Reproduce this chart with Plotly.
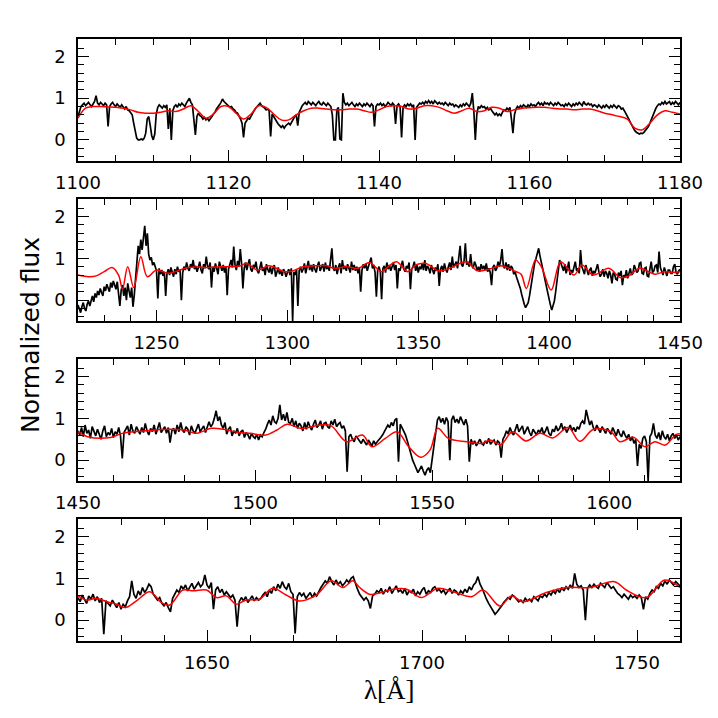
import plotly.graph_objects as go

# ---------------- Panel 1: 1100-1180 A (step 0.2 A) ----------------
p1_start, p1_step = 1100.0, 0.2
p1_flux = [
    0.56, 0.70, 0.80, 0.84, 0.88, 0.82, 0.86, 0.90, 0.84, 0.80,
    0.86, 0.92, 1.06, 0.88, 0.84, 0.90, 0.86, 0.82, 0.88, 0.84,
    0.32, 0.80, 0.86, 0.90, 0.84, 0.80, 0.86, 0.82, 0.78, 0.84,
    0.78, 0.74, 0.80, 0.72, 0.70, 0.66, 0.60, 0.40, 0.16, 0.04,
    0.00, 0.00, 0.02, 0.00, 0.04, 0.16, 0.50, 0.56, 0.34, 0.10,
    0.00, 0.14, 0.62, 0.78, 0.84, 0.80, 0.76, 0.82, 0.78, 0.84,
    0.26, 0.76, 0.00, 0.70, 0.80, 0.84, 0.78, 0.86, 0.82, 0.88,
    0.84, 0.80, 0.88, 0.94, 1.00, 0.90, 0.84, 0.48, 0.12, 0.56,
    0.64, 0.58, 0.56, 0.50, 0.54, 0.48, 0.52, 0.46, 0.50, 0.56,
    0.62, 0.66, 0.74, 0.78, 0.84, 0.90, 0.98, 0.92, 0.88, 0.84,
    0.82, 0.78, 0.80, 0.74, 0.72, 0.66, 0.64, 0.58, 0.50, 0.40,
    0.06, 0.40, 0.46, 0.52, 0.50, 0.58, 0.64, 0.70, 0.76, 0.80,
    0.86, 0.88, 0.82, 0.80, 0.76, 0.72, 0.74, 0.70, 0.08, 0.62,
    0.56, 0.48, 0.44, 0.38, 0.34, 0.30, 0.34, 0.28, 0.34, 0.38,
    0.40, 0.36, 0.44, 0.48, 0.56, 0.60, 0.34, 0.66, 0.76, 0.82,
    0.86, 0.90, 0.84, 0.92, 0.88, 0.84, 0.90, 0.86, 0.82, 0.88,
    0.92, 0.86, 0.84, 0.90, 0.86, 0.82, 0.88, 0.84, 0.80, 0.60,
    0.00, 0.00, 0.72, 0.78, 0.02, 0.00, 1.12, 0.90, 0.84, 0.88,
    0.82, 0.86, 0.90, 0.84, 0.80, 0.86, 0.82, 0.88, 0.84, 0.80,
    0.86, 0.82, 0.88, 0.84, 0.80, 0.86, 0.82, 0.32, 0.80, 0.86,
    0.84, 0.88, 0.82, 0.86, 0.80, 0.84, 0.90, 0.86, 0.82, 0.88,
    0.84, 0.38, 0.82, 0.86, 0.80, 0.06, 0.78, 0.84, 0.80, 0.86,
    0.82, 0.86, 0.80, 0.84, 0.00, 0.78, 0.84, 0.88, 0.86, 0.90,
    0.86, 0.92, 0.88, 0.94, 0.88, 0.92, 0.86, 0.94, 0.90, 0.86,
    0.90, 0.86, 0.88, 0.84, 0.90, 0.86, 0.82, 0.88, 0.84, 0.86,
    0.80, 0.84, 0.82, 0.78, 0.84, 0.80, 0.86, 0.82, 0.88, 0.84,
    0.80, 0.88, 1.12, 0.70, 0.00, 0.62, 0.80, 0.76, 0.82, 0.78,
    0.80, 0.74, 0.78, 0.72, 0.76, 0.70, 0.66, 0.60, 0.64, 0.58,
    0.62, 0.58, 0.66, 0.72, 0.70, 0.76, 0.72, 0.78, 0.50, 0.16,
    0.60, 0.74, 0.80, 0.76, 0.82, 0.78, 0.84, 0.80, 0.78, 0.84,
    0.80, 0.86, 0.82, 0.84, 0.80, 0.86, 0.90, 0.84, 0.88, 0.82,
    0.90, 0.86, 0.88, 0.84, 0.90, 0.86, 0.82, 0.88, 0.84, 0.90,
    0.86, 0.82, 0.84, 0.80, 0.86, 0.82, 0.88, 0.84, 0.80, 0.86,
    0.82, 0.88, 0.84, 0.90, 0.86, 0.82, 0.92, 0.86, 0.84, 0.88,
    0.84, 0.86, 0.80, 0.84, 0.82, 0.78, 0.84, 0.80, 0.76, 0.82,
    0.78, 0.84, 0.80, 0.76, 0.82, 0.78, 0.84, 0.80, 0.76, 0.82,
    0.80, 0.74, 0.76, 0.70, 0.64, 0.58, 0.50, 0.42, 0.34, 0.28,
    0.22, 0.18, 0.16, 0.14, 0.16, 0.15, 0.18, 0.22, 0.26, 0.32,
    0.40, 0.50, 0.60, 0.70, 0.76, 0.82, 0.86, 0.84, 0.90, 0.86,
    0.92, 0.86, 0.88, 0.92, 0.84, 0.90, 0.86, 0.92, 0.88, 0.84,
    0.90,
]
p1_model_wave = list(range(1100, 1181))
p1_model_flux = [
    0.52, 0.76, 0.80, 0.80, 0.79, 0.78, 0.76, 0.72, 0.66, 0.64,
    0.64, 0.66, 0.70, 0.68, 0.74, 0.82, 0.68, 0.52, 0.62, 0.80,
    0.80, 0.64, 0.50, 0.62, 0.82, 0.78, 0.62, 0.48, 0.48, 0.60,
    0.70, 0.76, 0.76, 0.74, 0.72, 0.72, 0.74, 0.74, 0.70, 0.66,
    0.72, 0.80, 0.82, 0.80, 0.74, 0.76, 0.82, 0.82, 0.78, 0.70,
    0.64, 0.70, 0.76, 0.68, 0.70, 0.78, 0.76, 0.68, 0.72, 0.76,
    0.77, 0.78, 0.78, 0.76, 0.74, 0.74, 0.72, 0.74, 0.74, 0.70,
    0.64, 0.60, 0.56, 0.50, 0.28, 0.24, 0.40, 0.60, 0.70, 0.66,
    0.62,
]

# ---------------- Panel 2: 1220-1450 A (step 0.5 A) ----------------
p2_start, p2_step = 1220.0, 0.5
p2_flux = [
    -0.12, -0.24, -0.30, -0.16, -0.06, -0.20, -0.26, -0.10, -0.02, -0.14,
    0.00, 0.10, -0.04, 0.16, 0.06, 0.22, 0.12, 0.28, 0.18, 0.10,
    0.32, 0.22, 0.38, 0.26, 0.20, 0.42, 0.30, 0.46, 0.34, 0.26,
    0.44, 0.18, -0.14, 0.24, 0.36, 0.10, 0.30, 0.00, 0.40, 0.22,
    0.06, 0.30, -0.16, 0.12, 0.46, 0.80, 1.30, 1.10, 1.45, 1.20,
    1.50, 1.78, 1.30, 1.60, 1.10, 0.96, 1.02, 0.84, 0.90, 0.76,
    0.70, 0.04, 0.76, 0.62, 0.72, 0.58, 0.68, 0.10, 0.64, 0.74,
    0.60, 0.78, 0.66, 0.56, 0.74, 0.62, 0.80, 0.68, 0.72, 0.00,
    0.66, 0.80, 0.72, 0.90, 0.76, 0.70, 0.86, 0.78, 0.96, 0.74,
    0.82, 0.68, 0.78, 0.92, 0.72, 0.64, 0.86, 0.76, 1.04, 0.82,
    0.74, 0.90, 0.30, 0.80, 0.68, 0.88, 0.76, 0.62, 0.92, 0.78,
    0.70, 0.84, 0.66, 0.80, 0.12, 0.74, 0.88, 0.96, 0.78, 1.28,
    0.84, 0.72, 0.94, 0.80, 1.22, 0.88, 0.28, 0.76, 0.90, 0.72,
    0.86, 0.98, 0.74, 0.68, 0.84, 0.78, 0.92, 0.70, 0.64, 0.82,
    0.92, 0.70, 0.78, 0.60, 0.86, 0.74, 0.66, 0.80, 0.62, 0.76,
    0.84, 0.56, 0.70, 0.78, 0.62, 0.72, 0.58, 0.74, 0.68, 0.56,
    0.66, 0.74, 0.60, 0.76, -0.50, 0.68, 0.60, 0.74, -0.14, 0.70,
    0.80, 0.66, 0.74, 0.88, 0.64, 0.78, 0.94, 0.72, 0.84, 0.68,
    0.86, 0.74, 0.66, 0.82, 0.92, 0.70, 0.78, 0.86, 0.68, 0.90,
    0.74, 0.82, 0.70, 0.96, 1.24, 0.76, 0.70, 0.84, 0.62, 0.78,
    0.88, 0.64, 0.96, 0.74, 0.82, 0.70, 0.86, 0.76, 0.66, 0.92,
    0.72, 0.84, 0.70, 0.80, 0.64, 0.78, 0.20, 0.72, 0.86, 0.76,
    0.88, 0.70, 0.80, 0.92, 1.02, 0.76, 0.84, 0.66, 0.08, 0.72,
    0.80, 0.68, 0.02, 0.76, 0.82, 0.66, 0.90, 0.74, 0.84, 0.70,
    0.78, 0.90, 0.72, 0.84, 0.28, 0.76, 0.70, 0.86, 0.94, 0.74,
    0.68, 0.82, 0.76, 0.90, 0.26, 0.74, 0.80, 0.92, 0.70, 0.84,
    0.66, 0.80, 0.74, 0.88, 0.72, 0.96, 0.70, 0.82, 0.76, 0.64,
    0.84, 0.72, 0.62, 0.78, 0.70, 0.86, 0.34, 0.74, 0.82, 0.68,
    0.88, 0.74, 0.66, 0.80, 0.90, 0.72, 1.04, 0.78, 0.84, 0.92,
    0.76, 0.98, 1.30, 0.86, 0.80, 0.94, 1.36, 0.84, 0.92, 0.80,
    1.10, 0.82, 0.76, 0.92, 0.84, 0.70, 0.80, 0.68, 0.86, 0.74,
    0.82, 0.72, 0.88, 0.68, 0.76, 0.66, 0.36, 0.78, 0.84, 0.70,
    0.76, 0.92, 0.80, 0.96, 1.22, 0.82, 0.76, 0.90, 0.72, 0.86,
    0.70, 0.82, 0.76, 0.62, 0.68, 0.56, 0.48, 0.40, 0.28, 0.14,
    0.00, -0.10, -0.18, -0.12, -0.06, 0.10, 0.30, 0.52, 0.74, 0.90,
    1.00, 1.14, 1.24, 1.06, 0.88, 0.74, 0.62, 0.46, 0.30, 0.14,
    0.00, -0.12, -0.24, -0.14, -0.02, 0.20, 0.50, 0.78, 0.96, 0.88,
    0.80, 0.70, 0.86, 0.64, 0.76, 0.92, 0.60, 0.72, 0.66, 0.80,
    0.92, 0.70, 0.76, 0.64, 1.20, 0.80, 0.72, 0.62, 0.84, 0.74,
    0.60, 0.72, 0.78, 0.58, 0.70, 0.64, 0.76, 0.86, 0.68, 0.56,
    0.62, 0.74, 0.56, 0.70, 0.64, 0.52, 0.70, 0.60, 0.40, 0.66,
    0.62, 0.50, 0.48, 0.66, 0.58, 0.70, 0.36, 0.60, 0.54, 0.72,
    0.52, 0.66, 0.76, 0.60, 0.64, 0.84, 0.72, 0.66, 0.70, 0.88,
    0.90, 0.64, 0.62, 0.76, 0.78, 0.58, 0.56, 0.70, 0.92, 0.66,
    0.70, 0.82, 0.84, 0.66, 1.16, 0.78, 0.66, 0.60, 0.78, 0.70,
    0.58, 0.72, 0.72, 0.64, 0.64, 0.80, 0.86, 0.66, 0.62, 0.70,
    0.74,
]
p2_model_wave = [
    1220, 1224, 1227, 1230, 1233, 1235.5, 1237, 1239, 1241.3, 1244,
    1246.5, 1250, 1254.5, 1258, 1262, 1266, 1270, 1274, 1278, 1282,
    1284.5, 1288.5, 1293, 1299, 1302, 1306, 1310, 1315, 1318, 1322.5,
    1327, 1331.4, 1335.8, 1338.5, 1341.7, 1346, 1349, 1352.7, 1357.9, 1362,
    1368.2, 1372.7, 1377, 1381.5, 1387.4, 1389.3, 1391.3, 1394.8, 1397, 1400.8,
    1404.4, 1409.5, 1412.5, 1416.9, 1422.8, 1427.2, 1430.5, 1434.6, 1440.5, 1444,
    1447, 1450,
]
p2_model_flux = [
    0.60, 0.56, 0.58, 0.68, 0.78, 0.60, 0.26, 0.80, 0.30, 1.04,
    0.56, 0.72, 0.64, 0.70, 0.78, 0.79, 0.78, 0.80, 0.80, 0.82,
    0.88, 0.72, 0.82, 0.68, 0.70, 0.80, 0.82, 0.82, 0.76, 0.80,
    0.76, 0.90, 0.68, 0.80, 0.92, 0.68, 0.84, 0.88, 0.70, 0.76,
    0.92, 0.70, 0.74, 0.82, 0.68, 0.62, 0.28, 0.96, 0.80, 0.24,
    0.92, 0.60, 0.84, 0.60, 0.76, 0.54, 0.58, 0.76, 0.62, 0.68,
    0.66, 0.68,
]

# ---------------- Panel 3: 1450-1620 A (step 0.5 A) ----------------
p3_start, p3_step = 1450.0, 0.5
p3_flux = [
    0.70, 0.60, 0.78, 0.56, 0.84, 0.64, 0.72, 0.52, 0.80, 0.66,
    0.58, 0.74, 0.62, 0.50, 0.70, 0.82, 0.56, 0.66, 0.60, 0.76,
    0.54, 0.68, 0.62, 0.78, 0.58, 0.04, 0.66, 0.74, 0.82, 0.60,
    0.86, 0.70, 0.64, 0.80, 0.72, 0.62, 0.78, 0.66, 0.88, 0.70,
    0.60, 0.76, 0.68, 0.84, 0.62, 0.74, 0.90, 0.66, 0.72, 0.80,
    0.64, 0.78, 0.42, 0.70, 0.76, 0.62, 0.84, 0.68, 0.90, 0.72,
    0.66, 0.80, 0.74, 0.60, 0.82, 0.70, 0.64, 0.78, 0.86, 0.68,
    0.74, 0.82, 0.66, 0.78, 0.92, 0.80, 0.86, 1.00, 1.18, 0.94,
    1.04, 0.84, 0.76, 0.90, 0.62, 0.74, 0.80, 0.58, 0.70, 0.64,
    0.76, 0.58, 0.68, 0.72, 0.54, 0.66, 0.60, 0.50, 0.64, 0.56,
    0.52, 0.62, 0.48, 0.60, 0.56, 0.66, 0.74, 0.86, 0.96, 0.84,
    1.06, 0.92, 0.88, 1.00, 1.32, 0.96, 1.10, 0.94, 1.14, 0.90,
    0.88, 1.00, 0.80, 0.94, 0.76, 0.88, 0.82, 0.70, 0.90, 0.74,
    0.92, 0.80, 0.72, 0.86, 0.96, 0.78, 0.84, 0.94, 0.74, 0.88,
    0.90, 0.80, 0.76, 0.94, 0.84, 0.98, 0.80, 0.86, 0.90, 0.76,
    0.82, 0.70, -0.28, 0.56, 0.62, 0.50, 0.44, 0.58, 0.52, 0.46,
    0.40, 0.50, 0.44, 0.36, 0.48, 0.40, 0.34, 0.46, 0.38, 0.44,
    0.48, 0.54, 0.60, 0.70, 0.76, 0.84, 0.78, 0.90, 0.82, 0.96,
    1.00, -0.04, 0.86, 0.78, 0.70, 0.60, 0.46, 0.30, 0.14, 0.00,
    -0.10, -0.20, -0.30, -0.22, -0.14, -0.26, -0.36, -0.24, -0.18, -0.30,
    0.04, 0.40, 0.74, 0.96, 1.04, 0.90, 1.00, 0.86, 1.02, 0.92,
    0.00, 0.96, 1.06, 0.90, 0.98, 0.88, 1.04, 0.92, 0.84, 0.98,
    0.82, -0.04, 0.50, 0.38, 0.46, 0.34, 0.44, 0.50, 0.40, 0.36,
    0.46, 0.40, 0.52, 0.38, 0.44, 0.48, 0.36, 0.46, 0.42, 0.06,
    0.50, 0.58, 0.70, 0.62, 0.78, 0.66, 0.60, 0.76, 0.86, 0.68,
    0.74, 0.82, 0.62, 0.70, 0.80, 0.66, 0.58, 0.74, 0.68, 0.60,
    0.72, 0.66, 0.78, 0.62, 0.70, 0.80, 0.64, 0.58, 0.74, 0.68,
    0.82, 0.70, 0.76, 0.88, 0.72, 0.80, 0.66, 0.74, 0.84, 0.70,
    0.78, 0.68, 0.80, 0.74, 0.88, 0.94, 0.86, 1.20, 1.04, 0.84,
    0.94, 0.78, 0.70, 0.84, 0.74, 0.66, 0.80, 0.72, 0.64, 0.76,
    0.70, 0.62, 0.78, 0.66, 0.58, 0.74, 0.62, 0.56, 0.70, 0.60,
    0.52, 0.62, 0.46, 0.56, 0.40, 0.50, -0.14, 0.38, 0.28, 0.52,
    0.58, 0.44, -0.50, 0.56, 0.64, 0.88, 0.60, 0.52, 0.66, 0.48,
    0.70, 0.56, 0.50, 0.62, 0.46, 0.58, 0.64, 0.52, 0.60, 0.48,
    0.56,
]
p3_model_wave = [
    1450, 1452.7, 1459.2, 1462.5, 1469.1, 1475.6, 1480, 1483.3, 1487.6, 1491,
    1495.3, 1498.6, 1503, 1506.2, 1509, 1512.8, 1515, 1518.3, 1521.5, 1525.9,
    1530.3, 1533, 1536.8, 1540.1, 1543.4, 1546.7, 1549.4, 1551.6, 1554.6, 1559.8,
    1564.1, 1566.3, 1569.4, 1572.7, 1576.5, 1580.5, 1584.1, 1588.4, 1591.7, 1595.6,
    1600.5, 1603, 1606.8, 1610.1, 1612.9, 1615.8, 1618.8, 1620,
]
p3_model_flux = [
    0.68, 0.56, 0.54, 0.64, 0.70, 0.74, 0.72, 0.64, 0.76, 0.74,
    0.66, 0.64, 0.60, 0.72, 0.86, 0.76, 0.78, 0.84, 0.82, 0.44,
    0.60, 0.32, 0.52, 0.68, 0.32, 0.07, 0.24, 0.76, 0.52, 0.44,
    0.40, 0.48, 0.37, 0.68, 0.46, 0.64, 0.53, 0.78, 0.45, 0.74,
    0.68, 0.44, 0.55, 0.32, 0.44, 0.36, 0.61, 0.63,
]

# ---------------- Panel 4: 1620-1760 A (step 0.5 A) ----------------
p4_start, p4_step = 1620.0, 0.5
p4_flux = [
    0.54, 0.44, 0.60, 0.48, 0.40, 0.58, 0.50, 0.62, 0.46, 0.56,
    0.42, 0.52, -0.34, 0.46, 0.40, 0.34, 0.48, 0.38, 0.30, 0.42,
    0.26, 0.38, 0.32, 0.46, 0.56, 0.94, 0.62, 0.52, 0.70, 0.60,
    0.78, 0.66, 0.74, 0.86, 0.80, 0.62, 0.56, 0.48, 0.54, 0.40,
    0.34, 0.42, 0.30, 0.20, 0.52, 0.62, 0.72, 0.66, 0.82, 0.74,
    0.84, 0.70, 0.78, 0.88, 0.74, 0.82, 0.90, 0.80, 0.86, 1.08,
    0.84, 0.76, 0.90, 0.26, 0.72, 0.80, 0.66, 0.74, 0.60, 0.68,
    0.62, 0.54, 0.60, 0.48, -0.16, 0.44, 0.54, 0.46, 0.56, 0.42,
    0.50, 0.58, 0.46, 0.54, 0.48, 0.52, 0.60, 0.66, 0.56, 0.72,
    0.64, 0.80, 0.70, 0.86, 0.76, 0.92, 0.80, 0.74, 0.88, 0.68,
    0.62, -0.32, 0.56, 0.66, 0.58, 0.64, 0.52, 0.60, 0.66, 0.54,
    0.64, 0.58, 0.70, 0.78, 0.86, 0.94, 0.88, 1.04, 0.92, 0.84,
    0.96, 0.86, 0.92, 0.82, 0.88, 0.96, 0.90, 1.00, 1.04, 0.88,
    0.74, 0.62, 0.56, 0.48, 0.54, 0.46, 0.28, 0.58, 0.62, 0.70,
    0.66, 0.76, 0.62, 0.72, 0.68, 0.80, 0.64, 0.74, 0.82, 0.68,
    0.72, 0.64, 0.76, 0.60, 0.70, 0.66, 0.74, 0.58, 0.68, 0.62,
    0.72, 0.78, 0.62, 0.70, 0.66, 0.76, 0.80, 0.70, 0.74, 0.66,
    0.72, 0.62, 0.70, 0.76, 0.64, 0.72, 0.68, 0.60, 0.70, 0.64,
    0.74, 0.66, 0.80, 0.72, 0.84, 0.90, 1.04, 0.86, 0.76, 0.62,
    0.50, 0.40, 0.32, 0.24, 0.14, 0.20, 0.26, 0.34, 0.42, 0.48,
    0.54, 0.50, 0.60, 0.56, 0.50, 0.44, 0.48, 0.42, 0.52, 0.46,
    0.50, 0.44, 0.56, 0.50, 0.46, 0.58, 0.54, 0.62, 0.56, 0.66,
    0.60, 0.70, 0.64, 0.74, 0.66, 0.78, 0.70, 0.80, 0.74, 0.84,
    0.76, 1.12, 0.86, 0.78, 0.82, 0.72, 0.00, 0.76, 0.84, 0.78,
    0.86, 0.80, 0.76, 0.88, 0.82, 0.78, 0.90, 0.84, 0.76, 0.80,
    0.72, 0.64, 0.60, 0.54, 0.62, 0.56, 0.50, 0.60, 0.54, 0.58,
    0.52, 0.60, 0.54, 0.26, 0.56, 0.50, 0.64, 0.72, 0.68, 0.80,
    0.76, 0.88, 0.82, 0.94, 0.86, 0.96, 0.90, 0.84, 0.92, 0.86,
    0.82,
]
p4_model_wave = [
    1620, 1622, 1624.3, 1626.7, 1629, 1631, 1633.6, 1636.7, 1639.4, 1641.3,
    1644.4, 1646.8, 1649.9, 1652.2, 1654.5, 1656.8, 1659.1, 1662.2, 1665.3, 1668.4,
    1671.5, 1675.4, 1678.9, 1681.6, 1683.9, 1685.5, 1687.8, 1689.8, 1693.3, 1696.4,
    1699.8, 1703.7, 1707.2, 1711.5, 1714.2, 1718.1, 1720.8, 1723.5, 1728.9, 1733.6,
    1739, 1744.8, 1747.5, 1752.2, 1756.4, 1760,
]
p4_model_flux = [
    0.58, 0.48, 0.52, 0.44, 0.38, 0.30, 0.46, 0.68, 0.42, 0.36,
    0.72, 0.70, 0.72, 0.54, 0.58, 0.38, 0.48, 0.50, 0.76, 0.60,
    0.46, 0.60, 0.94, 0.78, 0.94, 0.78, 0.62, 0.64, 0.74, 0.74,
    0.54, 0.76, 0.68, 0.56, 0.72, 0.34, 0.58, 0.44, 0.66, 0.78,
    0.78, 0.92, 0.72, 0.54, 0.96, 0.78,
]

x_ranges = [(1100, 1180), (1220, 1450), (1450, 1620), (1620, 1760)]
x_major = [20, 50, 50, 50]
x_minor = [5, 10, 10, 10]
y_range = (-0.5, 2.42)

# The page body has an 8 px margin, so the figure is 710 px and every
# reference pixel coordinate is shifted by that offset.
OFF = 8
W = H = 710
left_px, right_px = 78, 680
boxes = [(39, 160.7), (199, 321), (359, 481), (519, 641)]


def px_x(px):
    return (px - OFF) / W


def px_y(px):
    return 1 - (px - OFF) / H


panels = [
    (p1_start, p1_step, p1_flux, p1_model_wave, p1_model_flux),
    (p2_start, p2_step, p2_flux, p2_model_wave, p2_model_flux),
    (p3_start, p3_step, p3_flux, p3_model_wave, p3_model_flux),
    (p4_start, p4_step, p4_flux, p4_model_wave, p4_model_flux),
]

fig = go.Figure()
tick_font = dict(family="DejaVu Sans", size=18, color="black")

for k, (start, step, flux, mw, mf) in enumerate(panels):
    sfx = "" if k == 0 else str(k + 1)
    wave = [start + step * i for i in range(len(flux))]
    fig.add_trace(go.Scatter(x=wave, y=flux, mode="lines",
                             line=dict(color="black", width=1.7),
                             xaxis="x" + sfx, yaxis="y" + sfx,
                             showlegend=False, hoverinfo="skip"))
    fig.add_trace(go.Scatter(x=mw, y=mf, mode="lines",
                             line=dict(color="#ff0000", width=1.5, shape="spline", smoothing=1.0),
                             xaxis="x" + sfx, yaxis="y" + sfx,
                             showlegend=False, hoverinfo="skip"))
    top, bot = boxes[k]
    xr = x_ranges[k]
    fig.layout["xaxis" + sfx] = dict(
        domain=[px_x(left_px), px_x(right_px)], range=list(xr), anchor="y" + sfx,
        showline=True, linecolor="black", linewidth=1.6, mirror="allticks",
        ticks="inside", ticklen=11, tickwidth=1.3, tickcolor="black",
        tick0=0, dtick=x_major[k], showgrid=False, zeroline=False,
        tickfont=tick_font, ticklabelstandoff=5, automargin=False,
        minor=dict(ticks="inside", ticklen=6, tickwidth=1.3, tickcolor="black",
                   dtick=x_minor[k], tick0=0, showgrid=False),
    )
    fig.layout["yaxis" + sfx] = dict(
        domain=[px_y(bot), px_y(top)], range=list(y_range), anchor="x" + sfx,
        showline=True, linecolor="black", linewidth=1.6, mirror="allticks",
        ticks="inside", ticklen=11, tickwidth=1.3, tickcolor="black",
        tick0=0, dtick=1, showgrid=False, zeroline=False,
        tickfont=tick_font, ticklabelstandoff=7, automargin=False,
        minor=dict(ticks="inside", ticklen=6, tickwidth=1.3, tickcolor="black",
                   dtick=0.2, tick0=0, showgrid=False),
    )

fig.add_annotation(text="Normalized flux", x=px_x(30), y=px_y(335),
                   xref="paper", yref="paper", textangle=-90, showarrow=False,
                   font=dict(family="DejaVu Sans", size=25, color="black"),
                   xanchor="center", yanchor="middle")
fig.add_annotation(text="λ[Å]", x=px_x(390), y=px_y(690),
                   xref="paper", yref="paper", showarrow=False,
                   font=dict(family="Liberation Serif", size=27, color="black"),
                   xanchor="center", yanchor="middle")

fig.update_layout(width=W, height=H, autosize=False,
                  margin=dict(l=0, r=0, t=0, b=0, pad=0, autoexpand=False),
                  paper_bgcolor="white", plot_bgcolor="white")

fig.write_html("out.html")
